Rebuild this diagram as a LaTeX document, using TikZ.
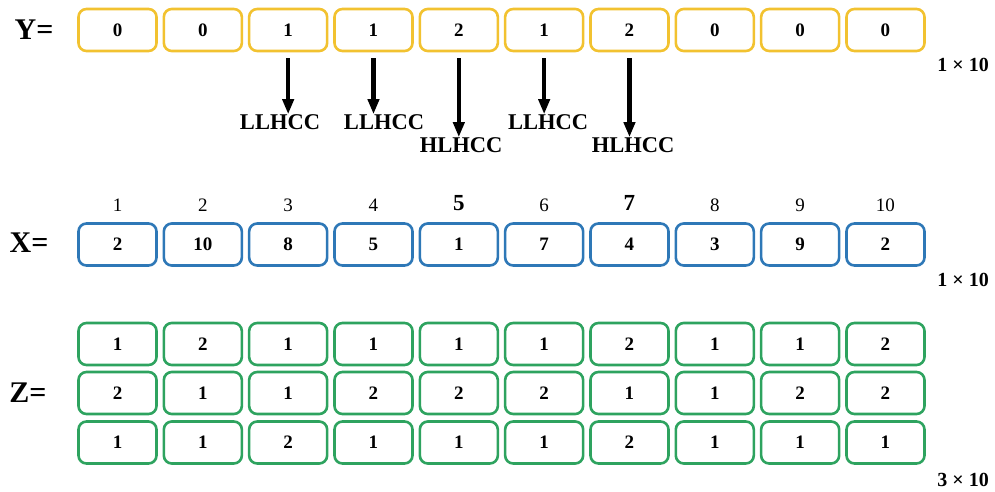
\documentclass[tikz,border=0pt]{standalone}
\usepackage{fontspec}
\setmainfont{Liberation Serif}
\usetikzlibrary{arrows.meta}
\definecolor{ycol}{HTML}{F2C230}
\definecolor{xcol}{HTML}{2E78B7}
\definecolor{zcol}{HTML}{2EA35F}
\begin{document}
\begin{tikzpicture}[x=1pt,y=-1pt,
  cell/.style={draw, line width=2.6pt, rounded corners=8pt, minimum width=78pt,
    minimum height=42pt, inner sep=0pt, font=\bfseries\fontsize{19}{19}\selectfont},
  ycell/.style={cell, draw=ycol},
  xcell/.style={cell, draw=xcol},
  zcell/.style={cell, draw=zcol},
  biglab/.style={font=\bfseries\fontsize{30}{30}\selectfont, inner sep=0pt},
  dimlab/.style={font=\bfseries\fontsize{20}{20}\selectfont, inner sep=0pt, anchor=east},
  codelab/.style={font=\bfseries\fontsize{22.5}{22.5}\selectfont, inner sep=0pt},
  idxlab/.style={font=\fontsize{19}{19}\selectfont, inner sep=0pt},
  idxbold/.style={font=\bfseries\fontsize{23}{23}\selectfont, inner sep=0pt},
  arr/.style={-{Triangle[length=15pt,width=11pt]}, line width=4.2pt, shorten <=6pt}]
\useasboundingbox (0,0) rectangle (995,492);
% labels
\node[biglab] (Ylab) at (34,30) {Y=};
\node[biglab] (Xlab) at (29,243) {X=};
\node[biglab] (Zlab) at (28,393) {Z=};
% Y row
\foreach \v [count=\i from 0] in {0,0,1,1,2,1,2,0,0,0}
  \node[ycell] (y\i) at ({117.5+85.33*\i},30) {\v};
% X row
\foreach \v [count=\i from 0] in {2,10,8,5,1,7,4,3,9,2}
  \node[xcell] (x\i) at ({117.5+85.33*\i},244.5) {\v};
% indices
\foreach \i in {1,2,3,4,6,8,9,10}
  \node[idxlab] (idx\i) at ({117.5+85.33*(\i-1)},205) {\i};
\foreach \i in {5,7}
  \node[idxbold] (idx\i) at ({117.5+85.33*(\i-1)},203) {\i};
% Z rows
\foreach \v [count=\i from 0] in {1,2,1,1,1,1,2,1,1,2}
  \node[zcell] (za\i) at ({117.5+85.33*\i},344) {\v};
\foreach \v [count=\i from 0] in {2,1,1,2,2,2,1,1,2,2}
  \node[zcell] (zb\i) at ({117.5+85.33*\i},393) {\v};
\foreach \v [count=\i from 0] in {1,1,2,1,1,1,2,1,1,1}
  \node[zcell] (zc\i) at ({117.5+85.33*\i},442.5) {\v};
% dimensions
\node[dimlab] (dy) at (989,65) {1 × 10};
\node[dimlab] (dx) at (989,280) {1 × 10};
\node[dimlab] (dz) at (989,480) {3 × 10};
% codes
\node[codelab] (l2) at (280,122) {LLHCC};
\node[codelab] (l3) at (384,122) {LLHCC};
\node[codelab] (l4) at (461,145) {HLHCC};
\node[codelab] (l5) at (548,122) {LLHCC};
\node[codelab] (l6) at (633,145) {HLHCC};
\foreach \i in {2,...,6}
  \draw[arr] (y\i.south) -- (y\i.south |- l\i.north);
\end{tikzpicture}
\end{document}
